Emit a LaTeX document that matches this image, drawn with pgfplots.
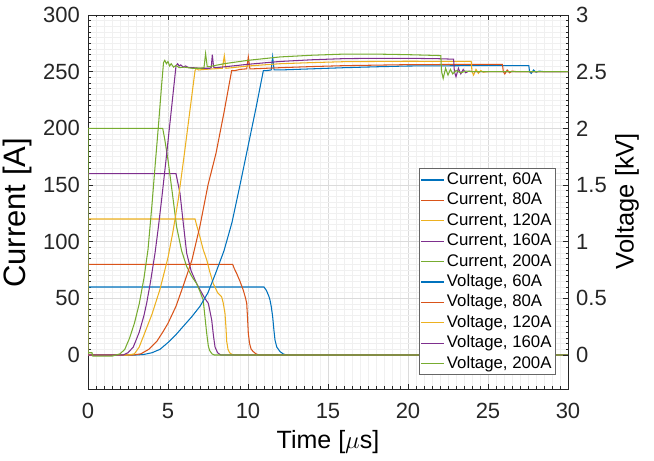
\documentclass[border=0pt]{standalone}
\usepackage{fontspec}
\setmainfont{Liberation Sans}
\usepackage{pgfplots}
\pgfplotsset{compat=1.18}

\definecolor{c1}{rgb}{0,0.447,0.741}
\definecolor{c2}{rgb}{0.85,0.325,0.098}
\definecolor{c3}{rgb}{0.929,0.694,0.125}
\definecolor{c4}{rgb}{0.494,0.184,0.556}
\definecolor{c5}{rgb}{0.466,0.674,0.188}
\definecolor{axgray}{rgb}{0.15,0.15,0.15}

\pgfplotsset{
  common/.style={
    at={(88bp,72bp)}, anchor=south west,
    scale only axis, width=480bp, height=374bp,
    xmin=0, xmax=30,
    tick align=inside,
    major tick length=5bp, minor tick length=2.5bp,
    every tick/.style={axgray, line width=0.5bp},
    axis line style={axgray, line width=0.6bp},
    /pgf/number format/assume math mode=true,
    ticklabel style={font=\fontsize{22bp}{25bp}\selectfont, text=axgray},
  },
  s1/.style={line width=1.05bp, draw=c1},
  s2/.style={line width=1.05bp, draw=c2},
  s3/.style={line width=1.05bp, draw=c3},
  s4/.style={line width=1.05bp, draw=c4},
  s5/.style={line width=1.05bp, draw=c5},
}

\begin{document}
\begin{tikzpicture}
\path[use as bounding box] (0,0) rectangle (654bp,461bp);

% left axis: current
\begin{axis}[common,
  ymin=-30, ymax=300,
  xtick={0,5,...,30}, ytick={0,50,...,300},
  minor x tick num=9, minor y tick num=9,
  xtick pos=both, ytick pos=left,
  grid=both,
  major grid style={black!14, line width=0.5bp},
  minor grid style={black!6, line width=0.4bp},
  xticklabel style={anchor=north, inner sep=0pt, yshift=-14bp},
  yticklabel style={anchor=east, inner sep=0pt, xshift=-8bp},
  xlabel={Time [$\mu$s]},
  xlabel style={font=\fontsize{25bp}{28bp}\selectfont, at={(axis description cs:0.5,-0.1417)}, anchor=center},
  ylabel={Current [A]},
  ylabel style={font=\fontsize{31bp}{34bp}\selectfont, at={(axis description cs:-0.1469,0.4706)}, anchor=center, rotate=0},
]
\addplot[s1] coordinates {(0,0) (0,60) (11.0,60) (11.15,57) (11.3,52) (11.375,48.5) (11.45,43) (11.54,34) (11.62,22) (11.69,13) (11.8,7) (12.0,3) (12.2,1) (12.4,0) (30,0)};
\addplot[s2] coordinates {(0,0) (0,80) (9.04,80) (9.15,76) (9.29,72) (9.5,65) (9.71,57) (9.85,50) (9.92,45.6) (9.97,33) (10.02,19) (10.1,10) (10.2,5) (10.33,3) (10.5,1) (10.7,0) (30,0)};
\addplot[s3] coordinates {(0,0) (0,120) (6.69,120) (6.8,114) (7.0,104) (7.2,93) (7.42,84) (7.6,74) (7.83,63) (8.1,55) (8.35,51.5) (8.45,46) (8.56,37) (8.62,25) (8.67,12) (8.75,5) (8.85,2) (9.0,0.5) (9.2,0) (30,0)};
\addplot[s4] coordinates {(0,0) (0,160) (5.5,160) (5.6,153) (5.75,142.6) (5.95,117) (6.17,89.7) (6.45,74) (6.79,63) (7.1,55) (7.3,50) (7.52,45.6) (7.63,38) (7.73,31) (7.85,16) (7.94,7) (8.1,2) (8.3,0) (30,0)};
\addplot[s5] coordinates {(0,0) (0,200) (4.67,200) (4.8,190) (5.0,172) (5.27,143) (5.54,113) (5.85,92) (6.17,78) (6.5,69) (6.79,63) (7.0,56) (7.2,48.5) (7.3,35) (7.42,19) (7.52,8) (7.6,4) (7.75,1) (7.9,0) (30,0)};
\end{axis}

% right axis: voltage
\begin{axis}[common,
  ymin=-0.3, ymax=3,
  hide x axis,
  axis y line*=right,
  ytick={0,0.5,...,3}, minor y tick num=9,
  yticklabel style={anchor=west, inner sep=0pt, xshift=8bp},
  ylabel={Voltage [kV]},
  ylabel style={font=\fontsize{25.5bp}{28bp}\selectfont, at={(axis description cs:1.1229,0.5027)}, anchor=center, rotate=0},
  legend cell align=left,
  legend style={
    at={(1,0)}, anchor=south east, xshift=-13bp, yshift=14bp,
    font=\fontsize{16.8bp}{19bp}\selectfont,
    draw=black!60, line width=0.5bp, fill=white,
    inner xsep=1bp, inner ysep=1bp, row sep=0pt,
    nodes={text height=12.5bp, text depth=3.5bp, inner sep=2.2bp},
  },
  legend image code/.code={\draw[#1, line width=1.2bp] (0bp,0bp) -- (23bp,0bp);},
]
\addlegendimage{s1}\addlegendentry{Current, 60A}
\addlegendimage{s2}\addlegendentry{Current, 80A}
\addlegendimage{s3}\addlegendentry{Current, 120A}
\addlegendimage{s4}\addlegendentry{Current, 160A}
\addlegendimage{s5}\addlegendentry{Current, 200A}

\addplot[s1] coordinates {(0,0) (3.0,0) (3.5,0.005) (4.0,0.02) (4.5,0.05) (5.0,0.11) (5.5,0.18) (6.0,0.26) (6.5,0.34) (7.0,0.43) (7.5,0.55) (8.0,0.73) (8.5,0.92) (9.0,1.17) (9.5,1.5) (10.0,1.84) (10.5,2.18) (10.96,2.51) (11.2,2.51) (11.45,2.515) (11.54,2.63) (11.63,2.515) (12,2.515) (14,2.525) (16,2.535) (18,2.543) (20,2.55) (24,2.553) (27.55,2.553) (27.6,2.5) (27.7,2.485) (27.85,2.515) (28.0,2.495) (28.2,2.505) (28.5,2.5) (30,2.5)};
\addlegendentry{Voltage, 60A}
\addplot[s2] coordinates {(0,0) (2.8,0) (3.3,0.01) (3.8,0.05) (4.3,0.12) (4.71,0.21) (5.0,0.28) (5.5,0.43) (5.75,0.53) (6.0,0.63) (6.5,0.84) (7.0,1.14) (7.5,1.5) (8.0,1.78) (8.5,2.14) (8.98,2.51) (9.2,2.51) (9.5,2.52) (9.92,2.525) (10.02,2.63) (10.12,2.525) (10.3,2.525) (12,2.535) (14,2.545) (16,2.553) (20,2.562) (25.9,2.565) (25.96,2.5) (26.05,2.48) (26.2,2.515) (26.35,2.49) (26.5,2.505) (26.8,2.5) (30,2.5)};
\addlegendentry{Voltage, 80A}
\addplot[s3] coordinates {(0,0) (2.5,0) (2.9,0.01) (3.2,0.07) (3.56,0.2) (4.0,0.36) (4.5,0.58) (5.0,0.86) (5.3,1.08) (5.64,1.37) (6.0,1.75) (6.3,2.08) (6.69,2.51) (6.8,2.53) (6.9,2.515) (7.3,2.52) (8.4,2.53) (8.52,2.64) (8.62,2.53) (9,2.535) (10,2.55) (12,2.57) (14,2.58) (16,2.588) (20,2.592) (23.95,2.59) (24.0,2.5) (24.1,2.47) (24.25,2.52) (24.4,2.485) (24.55,2.51) (24.7,2.495) (25,2.5) (30,2.5)};
\addlegendentry{Voltage, 120A}
\addplot[s4] coordinates {(0,0) (2.2,0) (2.5,0.02) (2.83,0.07) (3.2,0.2) (3.5,0.35) (3.67,0.46) (3.9,0.64) (4.19,0.9) (4.4,1.13) (4.6,1.37) (4.875,1.72) (5.2,2.15) (5.5,2.55) (5.6,2.57) (5.7,2.55) (5.8,2.56) (5.95,2.54) (6.1,2.55) (6.3,2.535) (6.6,2.535) (7.0,2.53) (7.6,2.53) (7.7,2.535) (7.77,2.65) (7.85,2.54) (8.0,2.535) (9,2.55) (10,2.565) (12,2.59) (14,2.605) (16,2.615) (18,2.618) (20,2.618) (22,2.614) (22.85,2.61) (22.9,2.5) (23.0,2.455) (23.15,2.53) (23.3,2.48) (23.45,2.52) (23.6,2.49) (23.8,2.505) (24.1,2.5) (30,2.5)};
\addlegendentry{Voltage, 160A}
\addplot[s5] coordinates {(0,0.02) (0.25,0.02) (0.3,-0.01) (1.5,-0.01) (2.0,0.01) (2.3,0.05) (2.6,0.15) (2.9,0.28) (3.2,0.45) (3.5,0.68) (3.75,0.93) (4.0,1.33) (4.2,1.68) (4.4,2.02) (4.6,2.38) (4.72,2.58) (4.8,2.6) (4.9,2.57) (5.0,2.59) (5.1,2.55) (5.2,2.57) (5.35,2.54) (5.5,2.555) (5.7,2.535) (6.0,2.54) (6.5,2.53) (7.0,2.53) (7.25,2.535) (7.35,2.66) (7.45,2.545) (7.6,2.545) (8.5,2.57) (10,2.6) (12,2.63) (14,2.645) (16,2.655) (18,2.655) (20,2.65) (22.05,2.642) (22.1,2.5) (22.2,2.44) (22.35,2.53) (22.5,2.47) (22.65,2.52) (22.8,2.48) (23,2.51) (23.3,2.49) (23.6,2.505) (24,2.5) (30,2.5)};
\addlegendentry{Voltage, 200A}
\end{axis}
\end{tikzpicture}
\end{document}
